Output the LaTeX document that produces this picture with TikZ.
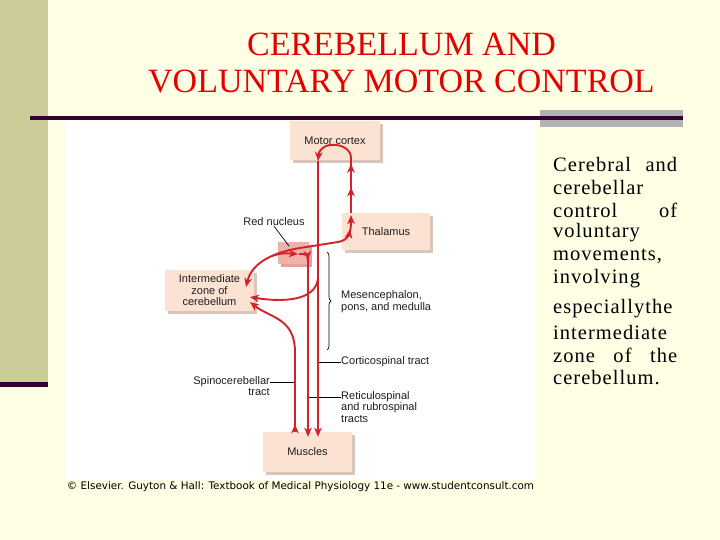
\documentclass[tikz,border=0pt]{standalone}
\usepackage{fontspec}
\setmainfont{Liberation Serif}
\setsansfont{Liberation Sans}
\newfontfamily\sidefont[LetterSpace=5]{Liberation Serif}
\newfontfamily\capfont{DejaVu Sans}
\usetikzlibrary{arrows.meta}
\usetikzlibrary{positioning}
\usetikzlibrary{shadows}
\usetikzlibrary{decorations.markings}
\usetikzlibrary{decorations.pathreplacing}

\definecolor{slidebg}{RGB}{255,255,229}
\definecolor{barolive}{RGB}{204,204,153}
\definecolor{darkplum}{RGB}{51,0,51}
\definecolor{bargray}{RGB}{178,178,178}
\definecolor{titlered}{RGB}{228,0,0}
\definecolor{boxpeach}{RGB}{252,226,210}
\definecolor{boxshade}{RGB}{216,198,186}
\definecolor{nucleuspink}{RGB}{242,176,170}
\definecolor{nucleusshade}{RGB}{228,160,154}
\definecolor{tractred}{RGB}{210,35,42}
\definecolor{labelgray}{RGB}{30,30,30}

\begin{document}
\begin{tikzpicture}[
				x=1pt, y=-1pt,
				>={Stealth[length=9pt,width=7.5pt,inset=2.5pt]},
				box/.style={fill=boxpeach, text=labelgray, font=\sffamily\fontsize{11}{11.5}\selectfont, align=center, inner sep=0pt,
					general shadow={fill=boxshade, shadow xshift=3pt, shadow yshift=-3pt}},
				lbl/.style={text=labelgray, font=\sffamily\fontsize{11}{11.7}\selectfont, inner sep=0pt},
				pointer/.style={draw=black, line width=0.7pt},
				tract/.style={draw=tractred, line width=1.9pt, ->},
				midarrow/.style={postaction={decorate, decoration={markings, mark=at position #1 with {\arrow[tractred]{>}}}}},
			]
				% slide background
				\useasboundingbox (0,0) rectangle (720,540);
				\fill[slidebg] (0,0) rectangle (720,540);
				\fill[barolive] (0,0) rectangle (48,382);
				\fill[darkplum] (0,382) rectangle (48,387);
				\fill[bargray] (540,110) rectangle (683,127);
				\fill[darkplum] (30,116) rectangle (683,120);
				\fill[white] (66,121) rectangle (535,480);

				\node[text=titlered, font=\fontsize{34}{37}\selectfont, align=center] (title) at (401.5,63.5) {CEREBELLUM AND\\VOLUNTARY MOTOR CONTROL};

				% side text
				\foreach \yy/\txt [count=\k] in {164/{\hbox to 124pt{Cerebral\hfill and}}, 187/cerebellar, 210/{\hbox to 124pt{control\hfill of}}, 233/voluntary, 256/{movements,}, 279/involving, 309/especiallythe, 332/intermediate, 355/{\hbox to 124pt{zone\hfill of\hfill the}}, 378/cerebellum.}
					\node[anchor=west, inner sep=0pt, font=\sidefont\fontsize{20.5}{23}\selectfont] (side\k) at (553,\yy) {\txt};

				% boxes
				\node[box, minimum width=90pt, minimum height=39pt] (motor) at (335,140.5) {Motor cortex};
				\node[box, minimum width=88pt, minimum height=37pt] (thalamus) at (386,231.5) {Thalamus};
				\node[box, minimum width=89pt, minimum height=41pt] (cerebellum) at (209.5,290.5) {Intermediate\\zone of\\cerebellum};
				\node[box, minimum width=89pt, minimum height=40pt] (muscles) at (307.5,452) {Muscles};
				\node[fill=nucleuspink, minimum width=31pt, minimum height=22pt, inner sep=0pt,
					general shadow={fill=nucleusshade, shadow xshift=3pt, shadow yshift=-3pt}] (rednuc) at (293,252.5) {};

				% free ends
				\coordinate (cs) at (318,161);
				\coordinate (csbranch) at (318,278);
				\coordinate (cbin1) at (250,297);
				\coordinate (cbin2) at (250,302);
				\coordinate (cbout) at (246,287);
				\coordinate (thin) at (351,215);
				\coordinate (thout) at (351,213);
				\coordinate (rnbranch) at (272,256);
				\coordinate (rnin) at (298,254);
				\coordinate (rs) at (299,254);
				\coordinate (rsdown) at (308,266);
				\coordinate (sc) at (295,352);
				\coordinate (csmark) at (318,362);
				\coordinate (rsmark) at (308,397);
				\coordinate (scmark) at (295,382);
				\coordinate (rntip) at (289,246);
				\coordinate (brtop) at (327,252);
				\coordinate (brbot) at (327,350);

				% labels
				\node[lbl] (rnlabel) at (274,222) {Red nucleus};
				\node[lbl, anchor=west, align=left] (mplabel) at (341,301.5) {Mesencephalon,\\pons, and medulla};
				\node[lbl, right=23pt of csmark] (cstlabel) {Corticospinal tract};
				\node[lbl, anchor=north west, align=left] (rslabel) at (341,391) {Reticulospinal\\and rubrospinal\\tracts};
				\node[lbl, anchor=north east, align=right] (sclabel) at (270,376) {Spinocerebellar\\tract};
				\node[font=\capfont\fontsize{9}{10}\selectfont, inner sep=0pt] (credit) at (300.5,487) {\resizebox{467pt}{!}{© Elsevier. Guyton \& Hall: Textbook of Medical Physiology 11e - www.studentconsult.com}};

				\draw[pointer] (rnlabel.south) -- (rntip);
				\draw[pointer, decorate, decoration={brace, amplitude=4pt}] (brtop) -- (brbot);
				\draw[pointer] (csmark) -- (cstlabel.west);
				\draw[pointer] (rsmark) -- (rsmark -| rslabel.west);
				\draw[pointer] (scmark) -- (scmark -| sclabel.east);

				% tracts
				\draw[tract, shorten >=-5pt] (cs) -- (cs |- muscles.north);
				\draw[tract] (csbranch) .. controls (316,302) and (280,302) .. (cbin1);
				\draw[tract, midarrow=0.05] (muscles.north -| sc) -- (sc) .. controls (295,318) and (270,318) .. (cbin2);
				\draw[tract, <->, midarrow=0.9] (cbout) .. controls (252,262) and (275,252) .. (300,248) -- (338,242) .. controls (348,240) and (351,235) .. (thin);
				\draw[tract, midarrow=0.25, midarrow=0.48] (thout) -- (351,158) .. controls (351,142) and (320,140) .. (cs);
				\draw[tract] (rnbranch) .. controls (282,253) .. (rnin);
				\draw[tract, midarrow=0.07, shorten >=-5pt] (rs) .. controls (308,254) .. (rsdown) -- (rsdown |- muscles.north);
			\end{tikzpicture}
\end{document}
